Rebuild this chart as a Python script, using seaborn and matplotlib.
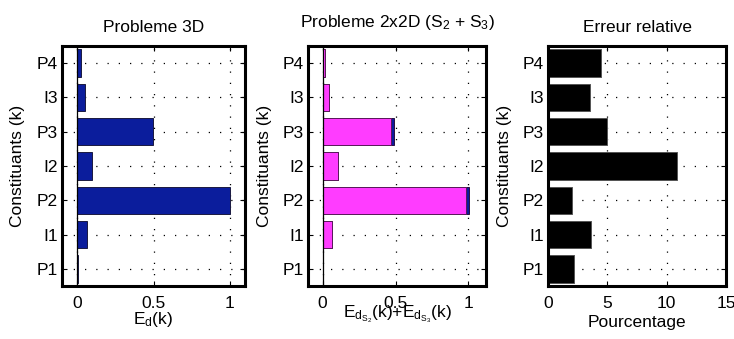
import matplotlib
matplotlib.use("Agg")
import matplotlib.pyplot as plt
import seaborn as sns
import pandas as pd

# Constituents, listed bottom to top
constituants = ["P1", "I1", "P2", "I2", "P3", "I3", "P4"]
# Normalised energy, full 3D problem
energie_3d = [0.005, 0.064, 1.0, 0.096, 0.495, 0.048, 0.024]
# Normalised energy, 2x2D problem: S2 part and S3 part
energie_s2 = [0.003, 0.063, 0.98, 0.104, 0.467, 0.043, 0.018]
energie_s3 = [0.0, 0.0, 0.022, 0.0, 0.023, 0.0, 0.0]
# Relative error between both problems (%)
erreur_rel = [2.2, 3.6, 2.0, 10.85, 5.0, 3.5, 4.5]

x_ticks_energie = [0, 0.5, 1]
x_ticks_erreur = [0, 5, 10, 15]

df = pd.DataFrame({
    "k": constituants,
    "e3d": energie_3d,
    "s2": energie_s2,
    "total": [a + b for a, b in zip(energie_s2, energie_s3)],
    "err": erreur_rel,
})
order = constituants[::-1]

plt.rcParams["font.family"] = ["Liberation Sans", "DejaVu Sans"]
plt.rcParams["mathtext.default"] = "regular"
FS = 12.5

BLUE = "#0b1d9c"
PINK = "#ff3cff"

fig = plt.figure(figsize=(7.34, 3.39), dpi=100)
ax1 = fig.add_axes([0.0845, 0.1563, 0.2493, 0.708])
ax2 = fig.add_axes([0.4196, 0.1563, 0.2425, 0.708])
ax3 = fig.add_axes([0.7466, 0.1563, 0.2425, 0.708])

common = dict(y="k", order=order, orient="h", width=0.8, saturation=1,
              errorbar=None, linewidth=0.7)

sns.barplot(data=df, x="e3d", color=BLUE, edgecolor="#1a1a40", ax=ax1, **common)
sns.barplot(data=df, x="total", color=BLUE, edgecolor="#2a1040", ax=ax2, **common)
sns.barplot(data=df, x="s2", color=PINK, edgecolor="#5a1a5a", ax=ax2, **common)
sns.barplot(data=df, x="err", color="black", edgecolor="#555555", ax=ax3, **common)

for ax, ticks, xlim in [(ax1, x_ticks_energie, (-0.1, 1.1)),
                        (ax2, x_ticks_energie, (-0.1, 1.12)),
                        (ax3, x_ticks_erreur, (0, 15))]:
    ax.set_xlim(*xlim)
    ax.set_ylim(6.5, -0.5)
    ax.set_xticks(ticks)
    ax.set_xticklabels([f"{t:g}" for t in ticks])
    ax.set_axisbelow(True)
    ax.grid(True, linestyle=(0, (1, 8)), color="black", linewidth=0.9)
    ax.axvline(0, color="black", linewidth=0.9, zorder=1)
    for s in ax.spines.values():
        s.set_linewidth(2.2)
        s.set_color("black")
    ax.tick_params(direction="in", length=3.5, width=0.8, top=True, right=True,
                   labelsize=FS, colors="black")
    ax.tick_params(axis="x", pad=7)
    ax.tick_params(axis="y", pad=3)
    ax.set_ylabel("Constituants (k)", fontsize=FS)
    ax.yaxis.set_label_coords(-0.2, 0.5)
    ax.set_facecolor("white")

ax1.set_title("Probleme 3D", fontsize=FS, pad=10)
ax2.set_title("Probleme 2x2D (S$_2$ + S$_3$)", fontsize=FS, pad=14)
ax3.set_title("Erreur relative", fontsize=FS, pad=10)

ax1.set_xlabel("E$_d$(k)", fontsize=FS, va="top")
ax1.xaxis.set_label_coords(0.5, -0.1)
ax2.set_xlabel("E$_{d_{S_2}}$(k)+E$_{d_{S_3}}$(k)", fontsize=FS, va="top")
ax2.xaxis.set_label_coords(0.5, -0.07)
ax3.set_xlabel("Pourcentage", fontsize=FS, va="top")
ax3.xaxis.set_label_coords(0.5, -0.12)

fig.savefig("out.png", dpi=100, facecolor="white")
